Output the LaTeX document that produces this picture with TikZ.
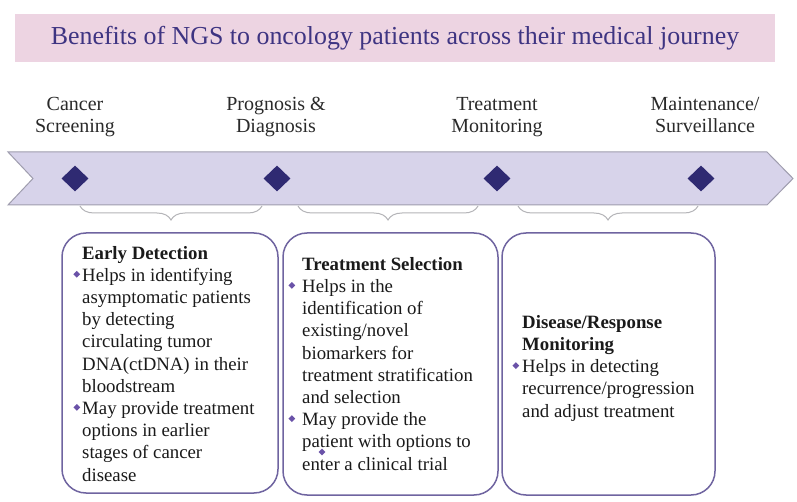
\documentclass[tikz,border=0pt]{standalone}
\usepackage{fontspec}
\setmainfont{Liberation Serif}
\usetikzlibrary{shapes.geometric,decorations.pathreplacing}
\definecolor{titlebg}{HTML}{EDD4E2}
\definecolor{titlefg}{HTML}{3E3482}
\definecolor{bandfill}{HTML}{D7D3EA}
\definecolor{bandline}{HTML}{9F9DAE}
\definecolor{dia}{HTML}{2F2A72}
\definecolor{bracec}{HTML}{B4B4B8}
\definecolor{boxline}{HTML}{6F64A0}
\definecolor{bul}{HTML}{6A52A8}
\definecolor{lblc}{HTML}{2A2A2A}
\definecolor{txtc}{HTML}{1A1A1A}
\newcommand{\bulmark}[1]{\leavevmode\llap{\textcolor{bul}{\raisebox{3.6pt}{\rotatebox{45}{\rule{4.8pt}{4.8pt}}}}\hspace{#1}}}
\begin{document}
\begin{tikzpicture}[x=1pt,y=-1pt,
  titlebox/.style={fill=titlebg,draw=none,minimum width=760pt,minimum height=48pt,inner sep=0pt,
    text=titlefg,font=\fontsize{25.9}{30}\selectfont},
  band/.style={fill=bandfill,draw=bandline,line width=1pt},
  dmd/.style={diamond,fill=dia,draw=none,minimum width=27pt,minimum height=26pt,inner sep=0pt},
  lbl/.style={align=center,text=lblc,inner sep=0pt,font=\fontsize{20}{22}\selectfont},
  brc/.style={draw=bracec,line width=1pt,decorate,decoration={brace,mirror,amplitude=14pt}},
  card/.style={draw=boxline,line width=1.5pt,rounded corners=24pt,fill=white,inner sep=0pt},
  txt/.style={align=left,text=txtc,inner sep=0pt,anchor=base west,font=\fontsize{18.8}{22.2}\selectfont},
  smalldmd/.style={diamond,fill=bul,draw=none,minimum width=7pt,minimum height=7pt,inner sep=0pt}
]
\useasboundingbox (0,0) rectangle (797,502);
\fill[white] (0,0) rectangle (797,502);

\node[titlebox] (title) at (395,38) {Benefits of NGS to oncology patients across their medical journey};

\draw[band] (8,152) -- (767,152) -- (793,178.5) -- (767,205) -- (8,205) -- (33,178.5) -- cycle;
\node[dmd] (d1) at (75,178.5) {};
\node[dmd] (d2) at (277,178.5) {};
\node[dmd] (d3) at (497,178.5) {};
\node[dmd] (d4) at (701,178.5) {};

\node[lbl,anchor=base] (l1) at (75,132.7) {Cancer\\Screening};
\node[lbl,anchor=base] (l2) at (276,132.7) {Prognosis \&\\Diagnosis};
\node[lbl,anchor=base] (l3) at (497,132.7) {Treatment\\Monitoring};
\node[lbl,anchor=base] (l4) at (705,132.7) {Maintenance/\\Surveillance};

\coordinate (b1a) at (80,206);  \coordinate (b1b) at (262,206);
\coordinate (b2a) at (298,206); \coordinate (b2b) at (478,206);
\coordinate (b3a) at (518,206); \coordinate (b3b) at (698,206);
\draw[brc] (b1a) -- (b1b);
\draw[brc] (b2a) -- (b2b);
\draw[brc] (b3a) -- (b3b);

\node[card,minimum width=216pt,minimum height=260pt] (c1) at (170,363) {};
\node[card,minimum width=215pt,minimum height=262pt] (c2) at (390.5,364) {};
\node[card,minimum width=213pt,minimum height=262pt] (c3) at (608.5,364) {};

\node[txt] (t1) at (82,481) {\textbf{Early Detection}\\
\bulmark{2pt}Helps in identifying\\
asymptomatic patients\\
by detecting\\
circulating tumor\\
DNA(ctDNA) in their\\
bloodstream\\
\bulmark{2pt}May provide treatment\\
options in earlier\\
stages of cancer\\
disease};

\node[txt] (t2) at (302,470) {\textbf{Treatment Selection}\\
\bulmark{7pt}Helps in the\\
identification of\\
existing/novel\\
biomarkers for\\
treatment stratification\\
and selection\\
\bulmark{7pt}May provide the\\
patient with options to\\
enter a clinical trial};

\node[txt] (t3) at (522,417) {\textbf{Disease/Response}\\
\textbf{Monitoring}\\
\bulmark{3pt}Helps in detecting\\
recurrence/progression\\
and adjust treatment};

\node[smalldmd] (stray) at (322,452) {};
\end{tikzpicture}
\end{document}
